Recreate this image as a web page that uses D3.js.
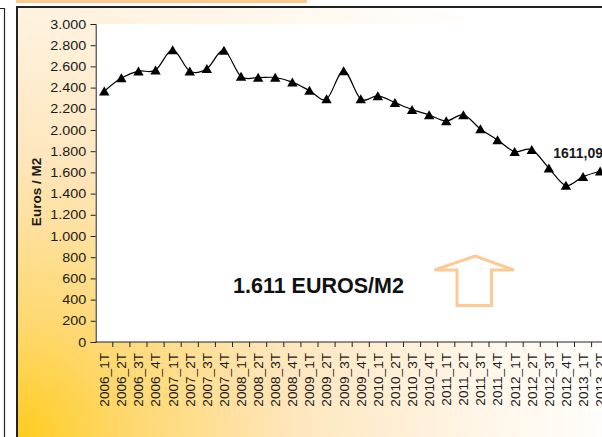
<!DOCTYPE html>
<meta charset="utf-8">
<head>
  <title>Euros / M2 por trimestre</title>
  <script type="text/javascript" src="https://cdn.jsdelivr.net/npm/d3@7/dist/d3.min.js"></script>
  <style>
    body {margin: 0; background: #fff;}
    svg {display: block; font-family: "Liberation Sans", Arial, sans-serif;}
  </style>
</head>
<body>
<div id="chart"></div>
<script>

// quarters shown on the x axis
var quarters = ["2006_1T","2006_2T","2006_3T","2006_4T","2007_1T","2007_2T","2007_3T","2007_4T",
                "2008_1T","2008_2T","2008_3T","2008_4T","2009_1T","2009_2T","2009_3T","2009_4T",
                "2010_1T","2010_2T","2010_3T","2010_4T","2011_1T","2011_2T","2011_3T","2011_4T",
                "2012_1T","2012_2T","2012_3T","2012_4T","2013_1T","2013_2T"];

// price per m2
var prices = [2365, 2490, 2555, 2565, 2755, 2555, 2578, 2750, 2505, 2495, 2495, 2452,
              2372, 2292, 2558, 2292, 2322, 2258, 2192, 2142, 2085, 2142, 2010, 1906,
              1796, 1815, 1640, 1476, 1560, 1611.09];

var yTicks = [0,200,400,600,800,1000,1200,1400,1600,1800,2000,2200,2400,2600,2800,3000];

var lastLabel = "1611,09";
var bigText = "1.611 EUROS/M2";

var width = 602, height = 437;

var svg = d3.select("#chart").append("svg")
    .attr("width", width)
    .attr("height", height);

// background gradient of the chart frame
var defs = svg.append("defs");
var grad = defs.append("radialGradient")
    .attr("id", "bg")
    .attr("gradientUnits", "userSpaceOnUse")
    .attr("cx", 17).attr("cy", 437)
    .attr("r", 620);
grad.append("stop").attr("offset", "0%").attr("stop-color", "#ffcc1f");
grad.append("stop").attr("offset", "18%").attr("stop-color", "#fed86e");
grad.append("stop").attr("offset", "45%").attr("stop-color", "#fee6bd");
grad.append("stop").attr("offset", "75%").attr("stop-color", "#fff6e8");
grad.append("stop").attr("offset", "100%").attr("stop-color", "#ffffff");

// small box on the far left
svg.append("path")
    .attr("d", "M0,8.5 H4.5 V437")
    .attr("fill", "none")
    .attr("stroke", "#222")
    .attr("stroke-width", 1.2);

// orange strip at the top
svg.append("rect")
    .attr("x", 16).attr("y", 0)
    .attr("width", 291).attr("height", 3)
    .attr("fill", "#fdca8e");

// chart frame
svg.append("rect")
    .attr("x", 17).attr("y", 7)
    .attr("width", 620).attr("height", 460)
    .attr("fill", "url(#bg)")
    .attr("stroke", "#222")
    .attr("stroke-width", 2);

// scales
var plot = {left: 95.7, top: 24, bottom: 342};
var x = d3.scaleBand()
    .domain(quarters)
    .range([plot.left, plot.left + quarters.length * 17.1]);
var y = d3.scaleLinear()
    .domain([0, 3000])
    .range([plot.bottom, plot.top]);

// white plot area
svg.append("rect")
    .attr("x", plot.left).attr("y", plot.top)
    .attr("width", width - plot.left).attr("height", plot.bottom - plot.top)
    .attr("fill", "#fff");

var es = d3.formatLocale({decimal: ",", thousands: ".", grouping: [3], currency: ["", "€"]});

// y axis
var yAxis = svg.append("g")
    .attr("transform", "translate(" + plot.left + ",0)")
    .call(d3.axisLeft(y).tickValues(yTicks).tickSize(5).tickFormat(es.format(",d")));
yAxis.select(".domain").attr("stroke", "#222");
yAxis.selectAll(".tick line").attr("stroke", "#222");
yAxis.selectAll(".tick text")
    .attr("x", 0)
    .attr("transform", "translate(-9.5,0) scale(1.15,1)")
    .attr("fill", "#1a1a1a")
    .style("font-size", "12.5px");

// x axis: ticks on the band edges, labels in the middle
var xAxis = svg.append("g")
    .attr("transform", "translate(0," + plot.bottom + ")");
xAxis.append("line")
    .attr("x1", plot.left).attr("x2", width)
    .attr("stroke", "#222");
xAxis.selectAll(".xtick")
    .data(quarters)
    .enter().append("line")
    .attr("class", "xtick")
    .attr("x1", function(d){ return x(d) + x.bandwidth(); })
    .attr("x2", function(d){ return x(d) + x.bandwidth(); })
    .attr("y1", 0).attr("y2", 5)
    .attr("stroke", "#222");
xAxis.selectAll(".xlab")
    .data(quarters)
    .enter().append("text")
    .attr("class", "xlab")
    .attr("transform", function(d){
        return "translate(" + (x(d) + x.bandwidth() / 2) + ",11) rotate(-90)";
    })
    .attr("dy", "0.36em")
    .attr("text-anchor", "end")
    .attr("fill", "#1a1a1a")
    .style("font-size", "13.6px")
    .text(function(d){ return d; });

// y axis title
svg.append("text")
    .attr("transform", "translate(41,192) rotate(-90)")
    .attr("text-anchor", "middle")
    .style("font-size", "13.5px")
    .style("font-weight", "bold")
    .attr("fill", "#1a1a1a")
    .text("Euros / M2");

// line
var pts = quarters.map(function(q, i){ return {q: q, v: prices[i]}; });
var line = d3.line()
    .x(function(d){ return x(d.q) + x.bandwidth() / 2; })
    .y(function(d){ return y(d.v); })
    .curve(d3.curveCatmullRom.alpha(0));

svg.append("path")
    .datum(pts)
    .attr("d", line)
    .attr("fill", "none")
    .attr("stroke", "#000")
    .attr("stroke-width", 1.2);

// triangle markers
svg.selectAll(".mark")
    .data(pts)
    .enter().append("path")
    .attr("class", "mark")
    .attr("d", "M0,-4.7 L5.2,4.3 L-5.2,4.3 Z")
    .attr("transform", function(d){
        return "translate(" + (x(d.q) + x.bandwidth() / 2) + "," + y(d.v) + ")";
    })
    .attr("fill", "#000");

// label of the last point
var last = pts[pts.length - 1];
svg.append("text")
    .attr("x", x(last.q) + x.bandwidth() / 2 - 47)
    .attr("y", y(last.v) - 13.5)
    .style("font-size", "14px")
    .style("font-weight", "bold")
    .attr("fill", "#1a1a1a")
    .text(lastLabel);

// big annotation
svg.append("text")
    .attr("x", 233)
    .attr("y", 293)
    .style("font-size", "21.5px")
    .style("font-weight", "bold")
    .attr("fill", "#111")
    .text(bigText);

// outlined arrow
svg.append("path")
    .attr("d", "M475,256 L514,270 L491.5,270 L491.5,305.5 L457,305.5 L457,270 L434.5,270 Z")
    .attr("fill", "none")
    .attr("stroke", "#fdc994")
    .attr("stroke-width", 3);

</script>
</body>
</html>
